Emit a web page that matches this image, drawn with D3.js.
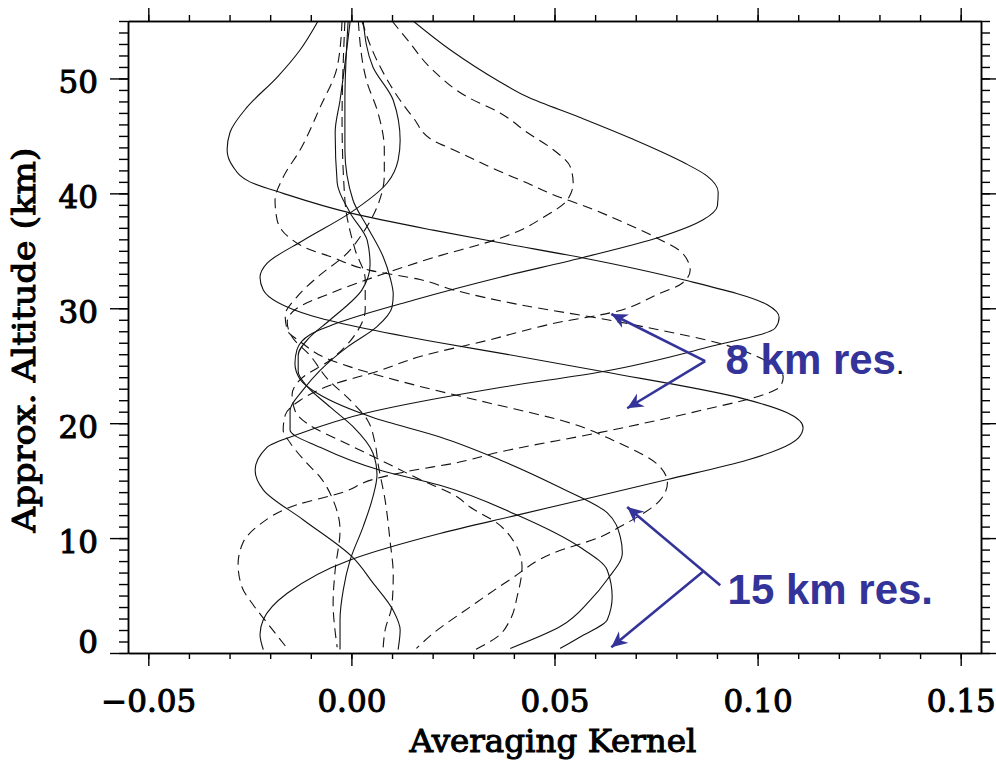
<!DOCTYPE html>
<html>
<head>
<meta charset="utf-8">
<script src="https://cdn.jsdelivr.net/npm/d3@7/dist/d3.min.js"></script>
<style>
  body { margin: 0; background: #fff; }
  .tick text { font-family: "DejaVu Serif", serif; font-size: 31px; fill: #000; stroke: #000; stroke-width: 1px; }
</style>
</head>
<body>
<svg id="chart" width="996" height="769"></svg>
<script>
// axis ticks
const xTicks = [-0.05, 0.00, 0.05, 0.10, 0.15];
const yTicks = [0, 10, 20, 30, 40, 50];

// 15 km resolution kernels (solid lines), [altitude km, kernel value]
const solid40 = [[55.0,0.0152],[52.5,0.0243],[49.7,0.0366],[48.4,0.0433],[46.6,0.0563],[44.7,0.0694],[42.7,0.0817],
  [41.5,0.0876],[40.1,0.0903],[38.9,0.0901],[37.7,0.0866],[36.2,0.0760],[34.4,0.0568],[32.7,0.0366],[30.7,0.0152],
  [28.8,-0.0028],[27.7,-0.0102],[26.4,-0.0134],[25.2,-0.0139],[23.8,-0.0126],[22.6,-0.0084],[20.5,0.0053],[18.8,0.0218],
  [16.8,0.0366],[14.4,0.0514],[12.2,0.0630],[10.1,0.0662],[8.7,0.0667],[6.4,0.0630],[4.6,0.0588],[2.3,0.0514],[0.4,0.0391]];
const solid30 = [[55.0,-0.0082],[52.5,-0.0126],[50.1,-0.0183],[47.5,-0.0257],[45.3,-0.0299],[43.8,-0.0306],[42.3,-0.0291],
  [41.0,-0.0250],[40.0,-0.0168],[38.3,-0.0003],[36.8,0.0201],[35.7,0.0366],[34.4,0.0568],[32.5,0.0815],[30.3,0.1024],
  [29.2,0.1053],[28.3,0.1044],[26.6,0.0876],[24.5,0.0620],[23.1,0.0366],[20.9,0.0039],[19.1,-0.0126],[17.9,-0.0208],
  [15.9,-0.0237],[14.2,-0.0217],[11.6,-0.0119],[8.3,0.0004],[6.1,0.0053],[3.7,0.0103],[2.0,0.0120],[0.3,0.0115]];
const solid20 = [[55.0,0.0029],[51.0,0.0053],[48.1,0.0103],[44.6,0.0120],[42.9,0.0115],[40.9,0.0088],[38.3,-0.0003],
  [35.9,-0.0119],[33.9,-0.0208],[32.7,-0.0225],[31.6,-0.0217],[29.4,-0.0102],[27.0,0.0218],[26.1,0.0366],[24.5,0.0618],
  [22.2,0.0957],[20.9,0.1073],[19.6,0.1112],[18.7,0.1100],[17.7,0.1051],[16.8,0.0975],[15.1,0.0778],[12.0,0.0408],
  [10.4,0.0218],[8.1,-0.0003],[5.2,-0.0158],[2.9,-0.0217],[1.6,-0.0225],[0.3,-0.0217]];
const solid05 = [[55.0,-0.0008],[48.1,-0.0016],[43.8,-0.0016],[39.4,0.0004],[37.1,0.0039],[34.5,0.0078],[32.7,0.0095],
  [31.2,0.0103],[30.1,0.0100],[28.4,0.0063],[26.6,-0.0011],[24.6,-0.0077],[22.9,-0.0119],[21.1,-0.0151],[19.4,-0.0151],
  [17.9,-0.0077],[15.9,0.0071],[14.6,0.0218],[12.0,0.0408],[9.2,0.0563],[7.2,0.0630],[4.9,0.0642],[2.9,0.0630],
  [1.4,0.0563],[0.4,0.0514]];
const solidTop = [[55.0,-0.0003],[48.1,-0.0028],[45.3,-0.0040],[40.9,-0.0035],[38.3,-0.0003],[35.9,0.0039],[33.8,0.0046],
  [31.6,0.0026],[29.0,-0.0052],[27.5,-0.0102],[25.9,-0.0131],[24.5,-0.0131],[23.2,-0.0109],[21.4,-0.0052],[19.7,0.0004],
  [17.4,0.0053],[15.5,0.0063],[13.6,0.0053],[11.0,0.0029],[8.1,-0.0003],[5.5,-0.0020],[2.9,-0.0028],[0.3,-0.0028]];

// 8 km resolution kernels (dashed lines)
const dash41 = [[55.0,0.0100],[53.4,0.0137],[50.7,0.0201],[48.4,0.0285],[47.0,0.0366],[45.3,0.0433],[43.8,0.0497],
  [42.3,0.0539],[40.9,0.0546],[39.4,0.0531],[37.9,0.0472],[36.8,0.0416],[36.1,0.0366],[34.4,0.0201],[32.9,0.0071],
  [31.3,-0.0052],[30.0,-0.0134],[28.8,-0.0158],[27.5,-0.0146],[25.9,-0.0102],[23.9,-0.0060],[22.0,-0.0003],[20.3,0.0039],
  [18.3,0.0058],[16.4,0.0066],[13.3,0.0083],[9.8,0.0095],[6.8,0.0103],[4.2,0.0100],[2.0,0.0083],[0.4,0.0078]];
const dash33 = [[55.0,0.0026],[52.5,0.0051],[49.9,0.0088],[48.1,0.0120],[46.6,0.0152],[44.6,0.0201],[43.8,0.0251],
  [41.9,0.0366],[40.9,0.0433],[40.0,0.0489],[38.7,0.0588],[37.1,0.0694],[36.1,0.0753],[34.8,0.0815],[33.3,0.0834],
  [32.2,0.0815],[31.2,0.0753],[29.6,0.0637],[28.8,0.0514],[27.2,0.0334],[25.8,0.0169],[24.5,0.0063],[23.3,-0.0052],
  [22.0,-0.0126],[20.7,-0.0163],[19.4,-0.0168],[18.3,-0.0151],[16.5,-0.0109],[15.3,-0.0077],[13.3,-0.0045],
  [10.7,-0.0028],[7.2,-0.0040],[4.4,-0.0045],[0.5,-0.0035]];
const dash24 = [[55.0,-0.0023],[51.0,-0.0035],[47.5,-0.0077],[43.8,-0.0126],[41.4,-0.0168],[39.4,-0.0188],[37.7,-0.0183],
  [36.1,-0.0151],[35.2,-0.0109],[34.5,-0.0052],[33.3,0.0046],[32.5,0.0169],[31.6,0.0251],[30.3,0.0416],[29.0,0.0630],
  [28.1,0.0760],[27.0,0.0901],[25.8,0.0999],[24.0,0.1063],[23.2,0.1056],[22.6,0.1024],[21.1,0.0859],[19.2,0.0613],
  [17.5,0.0366],[16.5,0.0251],[15.9,0.0152],[15.1,0.0053],[14.0,-0.0020],[12.9,-0.0134],[11.0,-0.0232],[9.6,-0.0267],
  [7.7,-0.0279],[5.7,-0.0269],[4.2,-0.0242],[2.6,-0.0207],[0.4,-0.0158]];
const dash15 = [[55.0,0.0017],[49.6,0.0039],[47.3,0.0063],[43.8,0.0081],[41.6,0.0081],[38.8,0.0063],[36.6,0.0029],
  [34.6,-0.0016],[32.9,-0.0077],[31.0,-0.0134],[29.4,-0.0163],[28.1,-0.0158],[27.1,-0.0126],[25.5,-0.0052],[24.9,-0.0003],
  [23.2,0.0169],[21.8,0.0334],[20.0,0.0540],[18.5,0.0645],[16.2,0.0760],[14.8,0.0778],[13.3,0.0760],[11.0,0.0662],
  [10.1,0.0613],[8.7,0.0497],[6.4,0.0391],[4.0,0.0292],[1.7,0.0201],[0.4,0.0160]];
const dash07 = [[55.0,-0.0016],[46.4,-0.0023],[39.4,-0.0016],[35.1,0.0009],[32.5,0.0034],[29.9,0.0034],[27.7,0.0009],
  [25.5,-0.0052],[23.8,-0.0126],[22.5,-0.0146],[21.1,-0.0139],[19.8,-0.0102],[18.5,-0.0028],[16.8,0.0071],[15.1,0.0169],
  [13.6,0.0260],[12.7,0.0292],[11.3,0.0359],[9.8,0.0398],[7.5,0.0420],[4.9,0.0408],[2.9,0.0391],[1.4,0.0359],[0.3,0.0305]];

const solidCurves = [solid40, solid30, solid20, solid05, solidTop];
const dashedCurves = [dash41, dash33, dash24, dash15, dash07];

// annotation arrows: [value, altitude] from -> to
const arrows8 = [[[0.0871, 25.4], [0.0640, 29.5]], [[0.0871, 25.4], [0.0679, 21.3]]];
const arrows15 = [[[0.0908, 5.9], [0.0679, 12.7]], [[0.0866, 7.1], [0.0640, 0.5]]];

const svg = d3.select("#chart");
const plot = { left: 128, right: 981, top: 21, bottom: 653 };

const x = d3.scaleLinear().domain([-0.055, 0.155]).range([plot.left, plot.right]);
const y = d3.scaleLinear().domain([0, 55]).range([plot.bottom, plot.top]);

svg.append("defs").append("clipPath").attr("id", "clip")
  .append("rect")
  .attr("x", plot.left).attr("y", plot.top)
  .attr("width", plot.right - plot.left).attr("height", plot.bottom - plot.top);

const line = d3.line()
  .x(d => x(d[1]))
  .y(d => y(d[0]))
  .curve(d3.curveMonotoneY);

const curves = svg.append("g").attr("clip-path", "url(#clip)");
curves.selectAll(".solid").data(solidCurves).enter()
  .append("path").attr("class", "solid")
  .attr("d", line)
  .attr("fill", "none").attr("stroke", "#111").attr("stroke-width", 1.1);
curves.selectAll(".dashed").data(dashedCurves).enter()
  .append("path").attr("class", "dashed")
  .attr("d", line)
  .attr("fill", "none").attr("stroke", "#111").attr("stroke-width", 1.1)
  .attr("stroke-dasharray", "10,6");

// axes: major + minor ticks on all four sides
const xMinor = d3.range(-5, 16).map(i => i / 100);
const yMinor = d3.range(0, 56);

function styleAxis(g) {
  g.select(".domain").attr("stroke", "#000").attr("stroke-width", 1.5);
  g.selectAll(".tick line").attr("stroke", "#000").attr("stroke-width", 1.4);
}

svg.append("g").attr("transform", `translate(0,${plot.bottom})`)
  .call(d3.axisBottom(x).tickValues(xMinor).tickSize(6).tickSizeOuter(0).tickFormat(""))
  .call(styleAxis);
const bottomAxis = svg.append("g").attr("transform", `translate(0,${plot.bottom})`)
  .call(d3.axisBottom(x).tickValues(xTicks).tickSize(13).tickSizeOuter(0).tickFormat(d3.format(".2f")))
  .call(styleAxis);
bottomAxis.selectAll("text").attr("y", 59).attr("dy", null);

svg.append("g").attr("transform", `translate(0,${plot.top})`)
  .call(d3.axisTop(x).tickValues(xMinor).tickSize(6).tickSizeOuter(0).tickFormat(""))
  .call(styleAxis);
svg.append("g").attr("transform", `translate(0,${plot.top})`)
  .call(d3.axisTop(x).tickValues(xTicks).tickSize(13).tickSizeOuter(0).tickFormat(""))
  .call(styleAxis);

svg.append("g").attr("transform", `translate(${plot.left},0)`)
  .call(d3.axisLeft(y).tickValues(yMinor).tickSize(9).tickSizeOuter(0).tickFormat(""))
  .call(styleAxis);
const leftAxis = svg.append("g").attr("transform", `translate(${plot.left},0)`)
  .call(d3.axisLeft(y).tickValues(yTicks).tickSize(18).tickSizeOuter(0).tickFormat(d3.format("d")))
  .call(styleAxis);
leftAxis.selectAll("text").attr("x", -30).attr("dy", d => d === 0 ? -1 : 14);

svg.append("g").attr("transform", `translate(${plot.right},0)`)
  .call(d3.axisRight(y).tickValues(yMinor).tickSize(9).tickSizeOuter(0).tickFormat(""))
  .call(styleAxis);
svg.append("g").attr("transform", `translate(${plot.right},0)`)
  .call(d3.axisRight(y).tickValues(yTicks).tickSize(15).tickSizeOuter(0).tickFormat(""))
  .call(styleAxis);

// axis titles
svg.append("text")
  .attr("x", 553).attr("y", 752)
  .attr("text-anchor", "middle")
  .attr("font-family", "DejaVu Serif, serif").attr("font-size", 31)
  .attr("stroke", "#000").attr("stroke-width", 1)
  .attr("textLength", 287).attr("lengthAdjust", "spacingAndGlyphs")
  .text("Averaging Kernel");

svg.append("text")
  .attr("transform", "translate(35,340) rotate(-90)")
  .attr("text-anchor", "middle")
  .attr("font-family", "DejaVu Serif, serif").attr("font-size", 31)
  .attr("stroke", "#000").attr("stroke-width", 1)
  .attr("textLength", 385).attr("lengthAdjust", "spacingAndGlyphs")
  .text("Approx. Altitude (km)");

// annotations
const blue = "#333399";
svg.select("defs").append("marker")
  .attr("id", "head").attr("markerUnits", "userSpaceOnUse")
  .attr("viewBox", "-16 -8 18 16").attr("refX", 0).attr("refY", 0)
  .attr("markerWidth", 18).attr("markerHeight", 16).attr("orient", "auto")
  .append("path").attr("d", "M0,0 L-16,-7.5 L-11,0 L-16,7.5 Z").attr("fill", blue);

const ann = svg.append("g");
ann.selectAll(".arrow").data(arrows8.concat(arrows15)).enter()
  .append("line").attr("class", "arrow")
  .attr("x1", d => x(d[0][0])).attr("y1", d => y(d[0][1]))
  .attr("x2", d => x(d[1][0])).attr("y2", d => y(d[1][1]))
  .attr("stroke", blue).attr("stroke-width", 2.6)
  .attr("marker-end", "url(#head)");

const label8 = ann.append("text")
  .attr("x", x(0.0921)).attr("y", y(24.3))
  .attr("font-family", "Liberation Sans, Arial, sans-serif").attr("font-weight", "bold")
  .attr("font-size", 42).attr("fill", blue)
  .text("8 km res");
label8.append("tspan").attr("fill", "#000").attr("font-size", 30).attr("font-weight", "normal").text(".");

ann.append("text")
  .attr("x", x(0.0926)).attr("y", y(4.3))
  .attr("font-family", "Liberation Sans, Arial, sans-serif").attr("font-weight", "bold")
  .attr("font-size", 42).attr("fill", blue)
  .text("15 km res.");
</script>
</body>
</html>
